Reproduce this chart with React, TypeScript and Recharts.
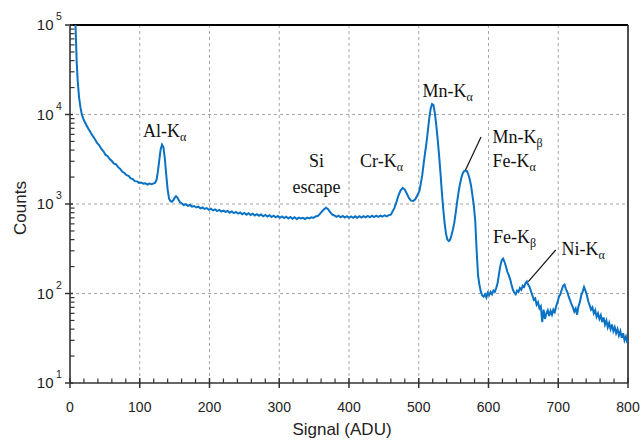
import React from 'react';
import { LineChart, Line, XAxis, YAxis, ReferenceLine, CartesianGrid } from 'recharts';

const signal = [
  7, 8, 9.5, 11, 13, 15, 17, 19, 21, 24, 27, 30, 33, 36, 39, 42, 45, 48, 51, 54, 57, 60, 63, 66, 69, 72, 75, 78, 81, 84, 87, 90, 93, 96, 99,
  102, 105, 108, 111, 114, 117, 120, 122, 124, 126, 128, 130, 132, 134, 136, 138, 140, 142, 144, 146, 148, 150, 152, 154, 156, 158,
  160, 163, 166, 169, 172, 175, 178, 181, 184, 187, 190, 193, 196, 199, 202, 205, 208, 211, 214, 217, 220, 223, 226, 229, 232, 235,
  238, 241, 244, 247, 250, 253, 256, 259, 262, 265, 268, 271, 274, 277, 280, 283, 286, 289, 292, 295, 298, 301, 304, 307, 310, 313,
  316, 319, 322, 325, 328, 331, 334, 337, 340, 343, 346, 349, 352, 355, 358, 361, 364, 367, 370, 373, 376, 379, 382, 385, 388, 391,
  394, 397, 400, 403, 406, 409, 412, 415, 418, 421, 424, 427, 430, 433, 436, 439, 442, 445, 448, 451, 454, 457, 460,
  465, 468, 471, 474, 477, 480, 483, 486, 489, 492, 495, 498, 501, 503, 505, 507, 509, 511, 513, 515, 517, 519, 521, 523, 525, 527,
  529, 531, 533, 535, 537, 539, 541, 543, 545, 547, 549, 551, 553, 555, 557, 559, 561, 563, 565, 567, 569, 571, 573, 575, 577, 579,
  581, 583, 585, 587, 589, 591, 593, 595, 597, 599, 601, 603, 605, 607, 609, 611, 613, 615, 617, 619, 621, 623, 625, 627, 629, 631,
  633, 635, 637, 639, 641, 643, 645, 647, 649, 651, 653, 655, 657, 659, 661, 663, 665, 667, 669, 671, 673, 675, 677, 679, 681, 683,
  685, 687, 689, 691, 693, 695, 697, 699, 701, 703, 705, 707, 709, 711, 713, 715, 717, 719, 721, 723, 725, 727, 729, 731, 733, 735,
  737, 739, 741, 743, 745, 747, 749, 751, 753, 755, 757, 759, 761, 763, 765, 767, 769, 771, 773, 775, 777, 779, 781, 783, 785, 787,
  789, 791, 793, 795, 797, 799, 800,
];

const counts = [
  120000, 95000, 40000, 24000, 15500, 12000, 10000, 9000, 8300, 7500, 6800, 6200, 5700, 5250, 4780, 4520, 4120, 3880, 3530, 3420, 3180, 3020, 2830, 2770, 2580, 2470, 2290, 2220, 2100, 2060, 1930, 1900, 1800, 1790, 1720,
  1740, 1690, 1700, 1650, 1690, 1660, 1700, 1730, 1850, 2300, 3100, 4100, 4600, 4300, 3200, 2100, 1450, 1150, 1080, 1060, 1100, 1170, 1220, 1180, 1100, 1040,
  1020, 975, 995, 955, 975, 935, 950, 915, 935, 895, 915, 880, 900, 860, 885, 850, 870, 835, 860, 825, 845, 815, 835, 800, 825, 790,
  815, 780, 805, 770, 795, 760, 790, 755, 780, 745, 770, 740, 765, 730, 755, 725, 750, 715, 740, 710, 735, 700, 725, 695, 720, 690,
  715, 685, 710, 680, 705, 690, 700, 680, 705, 690, 710, 700, 725, 735, 770, 820, 870, 910, 875, 810, 760, 745, 720, 740, 710, 735,
  705, 730, 700, 725, 700, 728, 702, 730, 705, 732, 708, 735, 710, 738, 715, 740, 718, 742, 722, 748, 728, 752, 760,
  900, 1050, 1250, 1420, 1510, 1450, 1300, 1160, 1090, 1080, 1130, 1250, 1400, 1700, 2100, 2800, 3700, 4800, 6500, 9000, 11500, 13100, 12800, 10500, 7800, 5400,
  3600, 2300, 1400, 900, 620, 470, 400, 385, 400, 450, 520, 620, 800, 1050, 1350, 1650, 1950, 2200, 2330, 2360, 2330, 2150, 1900, 1600, 1250, 950,
  650, 300, 160, 125, 105, 95, 92, 98, 90, 102, 96, 104, 98, 108, 104, 115, 130, 165, 205, 235, 245, 225, 200, 175, 160, 145,
  125, 110, 102, 98, 108, 104, 115, 110, 122, 118, 130, 136, 125, 118, 105, 95, 85, 88, 75, 80, 68, 72, 48, 66, 52, 60,
  65, 56, 64, 58, 66, 62, 72, 80, 92, 98, 110, 122, 126, 112, 104, 92, 84, 76, 70, 63, 68, 58, 72, 80, 96, 105,
  118, 108, 96, 82, 74, 66, 70, 60, 65, 55, 60, 52, 57, 48, 54, 45, 50, 42, 47, 40, 45, 38, 42, 36, 40, 34,
  38, 32, 36, 30, 33, 28, 30,
];

const xMajorTicks = [0, 100, 200, 300, 400, 500, 600, 700, 800];
const yMajorTicks = [10, 100, 1000, 10000, 100000];
const xGridValues = [100, 200, 300, 400, 500, 600, 700];
const yGridValues = [100, 1000, 10000];

const data = signal.map((s, i) => ({ signal: s, counts: counts[i] }));

const xTicks: number[] = [];
for (let i = 0; i < xMajorTicks.length; i++) {
  xTicks.push(xMajorTicks[i]);
  if (i < xMajorTicks.length - 1) {
    const step = (xMajorTicks[i + 1] - xMajorTicks[i]) / 5;
    for (let k = 1; k < 5; k++) xTicks.push(xMajorTicks[i] + k * step);
  }
}
const yTicks: number[] = [];
for (let i = 0; i < yMajorTicks.length; i++) {
  yTicks.push(yMajorTicks[i]);
  if (i < yMajorTicks.length - 1) {
    for (let k = 2; k <= 9; k++) yTicks.push(yMajorTicks[i] * k);
  }
}

const SANS = '"Liberation Sans", Arial, sans-serif';
const SERIF = '"Liberation Serif", "Times New Roman", serif';
const AXIS = '#333333';

const XTick = (props: any) => {
  const { x, y, payload } = props;
  const v = payload.value;
  const major = xMajorTicks.includes(v);
  return (
    <g>
      {major ? (
        <line x1={x} x2={x} y1={y - 5} y2={y + 5} stroke={AXIS} strokeWidth={1.5} />
      ) : (
        <line x1={x} x2={x} y1={y - 4.5} y2={y} stroke={AXIS} strokeWidth={1.2} />
      )}
      {major && (
        <text x={x} y={y + 28.5} textAnchor="middle" fontSize={14} fontFamily={SANS} fill="#222">
          {v}
        </text>
      )}
    </g>
  );
};

const YTick = (props: any) => {
  const { x, y, payload } = props;
  const v = payload.value;
  const lg = Math.log10(v);
  const major = Math.abs(lg - Math.round(lg)) < 1e-6;
  if (!major) {
    return <line x1={x} x2={x + 4.5} y1={y} y2={y} stroke={AXIS} strokeWidth={1.2} />;
  }
  return (
    <g>
      <line x1={x - 5} x2={x + 3} y1={y} y2={y} stroke={AXIS} strokeWidth={1.5} />
      <text x={x - 16.5} y={y + 5.2} textAnchor="end" fontSize={15} fontFamily={SANS} fill="#222">
        10
      </text>
      <text x={x - 14} y={y - 5} textAnchor="start" fontSize={10.5} fontFamily={SANS} fill="#222">
        {Math.round(lg)}
      </text>
    </g>
  );
};

const Sub = ({ children }: { children: React.ReactNode }) => (
  <tspan fontSize={12} dy={4}>
    {children}
  </tspan>
);

export default function App() {
  return (
    <div style={{ position: 'absolute', left: 0, top: 0, width: 641, height: 440, background: '#fff' }}>
      <LineChart
        width={641}
        height={440}
        data={data}
        margin={{ top: 25, right: 13, bottom: 0, left: 0 }}
      >
        <CartesianGrid
          stroke="#a6a6a6"
          strokeDasharray="3 3"
          horizontalValues={yGridValues}
          verticalValues={xGridValues}
        />
        <XAxis
          dataKey="signal"
          type="number"
          domain={[0, 800]}
          ticks={xTicks}
          interval={0}
          tickSize={0}
          tickMargin={0}
          tickLine={false}
          height={57}
          axisLine={{ stroke: AXIS, strokeWidth: 1.6 }}
          tick={<XTick />}
          allowDataOverflow
        />
        <YAxis
          type="number"
          scale="log"
          domain={[10, 100000]}
          ticks={yTicks}
          interval={0}
          tickSize={0}
          tickMargin={0}
          tickLine={false}
          width={70}
          axisLine={{ stroke: AXIS, strokeWidth: 1.6 }}
          tick={<YTick />}
          allowDataOverflow
        />
        <ReferenceLine y={100000} stroke="#000" strokeWidth={2} />
        <ReferenceLine x={800} stroke="#222" strokeWidth={1.6} />
        <Line
          type="linear"
          dataKey="counts"
          stroke="#0a72c4"
          strokeWidth={2}
          dot={false}
          isAnimationActive={false}
        />
      </LineChart>
      <svg
        width={641}
        height={440}
        style={{ position: 'absolute', left: 0, top: 0, pointerEvents: 'none' }}
      >
        <g fontFamily={SERIF} fontSize={18} fill="#111">
          <text x={143} y={137}>
            Al-K<Sub>α</Sub>
          </text>
          <text x={316.5} y={167} textAnchor="middle">Si</text>
          <text x={316.5} y={193} textAnchor="middle">escape</text>
          <text x={360} y={167}>
            Cr-K<Sub>α</Sub>
          </text>
          <text x={422.5} y={97}>
            Mn-K<Sub>α</Sub>
          </text>
          <text x={492.5} y={143}>
            Mn-K<Sub>β</Sub>
          </text>
          <text x={492.5} y={167}>
            Fe-K<Sub>α</Sub>
          </text>
          <text x={493} y={243}>
            Fe-K<Sub>β</Sub>
          </text>
          <text x={561.5} y={255}>
            Ni-K<Sub>α</Sub>
          </text>
        </g>
        <line x1={481} y1={137} x2={465.5} y2={170} stroke="#111" strokeWidth={1.2} />
        <line x1={555.7} y1={250} x2={528.3} y2={281.7} stroke="#111" strokeWidth={1.2} />
        <text x={342} y={435} textAnchor="middle" fontSize={17} fontFamily={SANS} fill="#222">
          Signal (ADU)
        </text>
        <text
          x={0}
          y={0}
          transform="translate(26,208) rotate(-90)"
          textAnchor="middle"
          fontSize={17}
          fontFamily={SANS}
          fill="#222"
        >
          Counts
        </text>
      </svg>
    </div>
  );
}
